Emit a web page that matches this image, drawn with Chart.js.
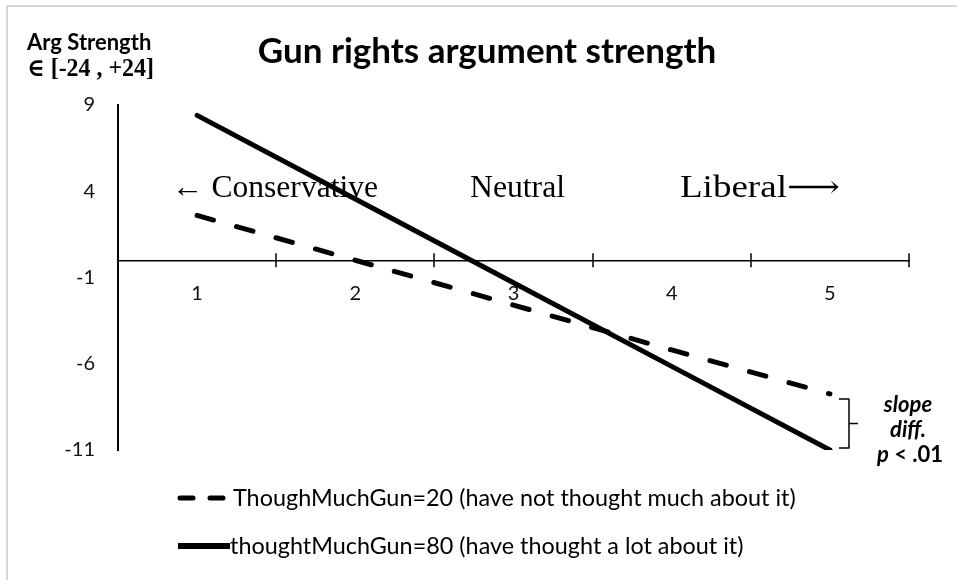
<!DOCTYPE html>
<html>
<head>
<meta charset="utf-8">
<script src="https://cdn.jsdelivr.net/npm/chart.js@4"></script>
<style>
  html, body { margin: 0; padding: 0; background: #fff; }
  #wrap { width: 957px; height: 580px; }
</style>
</head>
<body>
<div id="wrap"><canvas id="c" width="957" height="580"></canvas></div>
<script>
// ---- data ----
const categories = ['1', '2', '3', '4', '5'];
const lowThought = [2.6, 0.0, -2.6, -5.2, -7.75];     // ThoughMuchGun=20
const highThought = [8.4, 3.55, -1.3, -6.15, -11.0];  // thoughtMuchGun=80
const yMin = -11, yMax = 9, yStep = 5;

const labelLow = 'ThoughMuchGun=20 (have not thought much about it)';
const labelHigh = 'thoughtMuchGun=80 (have thought a lot about it)';
const titleText = 'Gun rights argument strength';
const yTitle1 = 'Arg Strength';
const yTitle2 = '\u2208 [-24 , +24]';
const regionLabels = ['\u2190 Conservative', 'Neutral', 'Liberal\u27F6'];
const slopeNote = ['slope', 'diff.', 'p < .01'];

const SANS = 'Lato, "Open Sans", sans-serif';
const SERIF = '"Liberation Serif", "DejaVu Serif", serif';

function txt(ctx, s, x, y, font, align, maxW) {
  ctx.save();
  ctx.font = font;
  ctx.fillStyle = '#000';
  ctx.textAlign = align || 'left';
  ctx.textBaseline = 'alphabetic';
  if (maxW) ctx.fillText(s, x, y, maxW); else ctx.fillText(s, x, y);
  ctx.restore();
}
// draw text stretched/compressed horizontally to an exact width
function txtFit(ctx, s, x, y, font, width) {
  ctx.save();
  ctx.font = font;
  ctx.fillStyle = '#000';
  ctx.textAlign = 'left';
  ctx.textBaseline = 'alphabetic';
  const w = ctx.measureText(s).width;
  ctx.translate(x, y);
  ctx.scale(width / w, 1);
  ctx.fillText(s, 0, 0);
  ctx.restore();
}

const decor = {
  id: 'decor',
  beforeDraw(chart) {
    const ctx = chart.ctx;
    ctx.save();
    ctx.strokeStyle = '#d9d9d9';
    ctx.lineWidth = 2;
    ctx.beginPath();
    ctx.moveTo(7, 580); ctx.lineTo(7, 6); ctx.lineTo(957, 6);
    ctx.stroke();
    ctx.restore();
  },
  beforeDatasetsDraw(chart) {
    const ctx = chart.ctx;
    // region labels
    txtFit(ctx, regionLabels[0], 172, 197, '31px ' + SERIF, 206);
    txtFit(ctx, regionLabels[1], 470, 197, '31px ' + SERIF, 95);
    txtFit(ctx, regionLabels[2], 680, 197, '31px ' + SERIF, 160);
    // x tick marks crossing the axis
    const xs = chart.scales.x, ys = chart.scales.y;
    const y0 = ys.getPixelForValue(0);
    ctx.save();
    ctx.strokeStyle = '#000';
    ctx.lineWidth = 1.5;
    ctx.beginPath();
    for (let i = 0; i <= categories.length; i++) {
      const x = Math.round(xs.getPixelForValue(i - 0.5));
      ctx.moveTo(x, y0 - 7); ctx.lineTo(x, y0 + 7);
    }
    ctx.stroke();
    ctx.restore();
  },
  afterDraw(chart) {
    const ctx = chart.ctx;
    // title
    txt(ctx, titleText, 487, 63, 'bold 35px ' + SANS, 'center');
    // y-axis title
    txt(ctx, yTitle1, 27, 50, 'bold 22px ' + SANS, 'left');
    txt(ctx, yTitle2, 27, 76, 'bold 25px ' + SERIF, 'left', 127);
    // bracket
    ctx.save();
    ctx.strokeStyle = '#000';
    ctx.lineWidth = 1.5;
    ctx.lineJoin = 'round';
    ctx.beginPath();
    ctx.moveTo(839, 399); ctx.lineTo(849, 399); ctx.lineTo(849, 448); ctx.lineTo(839, 448);
    ctx.moveTo(849, 423.5); ctx.lineTo(858, 423.5);
    ctx.stroke();
    ctx.restore();
    txt(ctx, slopeNote[0], 908, 412, 'italic bold 22px ' + SANS, 'center');
    txt(ctx, slopeNote[1], 908, 437, 'italic bold 22px ' + SANS, 'center');
    // "p < .01" with italic p
    ctx.save();
    ctx.font = 'italic bold 22px ' + SANS;
    const wp = ctx.measureText('p').width;
    ctx.font = 'bold 22px ' + SANS;
    const wr = ctx.measureText(' < .01').width;
    const startX = 910 - (wp + wr) / 2;
    ctx.restore();
    txt(ctx, 'p', startX, 462, 'italic bold 22px ' + SANS, 'left');
    txt(ctx, ' < .01', startX + wp, 462, 'bold 22px ' + SANS, 'left');
    // legend
    const ds = chart.data.datasets;
    const rows = [498, 546];
    ds.forEach((d, i) => {
      const y = rows[i];
      const dashed = d.borderDash && d.borderDash.length;
      ctx.save();
      ctx.strokeStyle = d.borderColor;
      ctx.lineWidth = d.borderWidth;
      ctx.lineCap = 'round';
      ctx.setLineDash(dashed ? [13, 17] : []);
      ctx.beginPath();
      if (dashed) { ctx.moveTo(180, y); ctx.lineTo(224, y); }
      else { ctx.lineCap = 'butt'; ctx.lineWidth = d.borderWidth + 1; ctx.moveTo(178, y); ctx.lineTo(230, y); }
      ctx.stroke();
      ctx.restore();
      txt(ctx, d.label, dashed ? 233 : 230, y + 8, '23.4px ' + SANS, 'left');
    });
  }
};

new Chart(document.getElementById('c'), {
  type: 'line',
  data: {
    labels: categories,
    datasets: [
      { label: labelLow, data: lowThought, borderColor: '#000', borderWidth: 5,
        borderDash: [17, 24], borderCapStyle: 'round', pointRadius: 0, tension: 0, fill: false },
      { label: labelHigh, data: highThought, borderColor: '#000', borderWidth: 5,
        borderCapStyle: 'round', pointRadius: 0, tension: 0, fill: false }
    ]
  },
  options: {
    responsive: false,
    animation: false,
    events: [],
    layout: { padding: { top: 105, right: 48, bottom: 130, left: 0 } },
    plugins: { legend: { display: false }, title: { display: false }, tooltip: { enabled: false } },
    scales: {
      x: {
        type: 'category',
        offset: true,
        position: { y: 0 },
        grid: { display: false, drawTicks: false },
        border: { display: true, color: '#000', width: 1.5 },
        ticks: { color: '#111', font: { family: SANS, size: 20 }, padding: 21, maxRotation: 0 }
      },
      y: {
        min: yMin, max: yMax,
        grid: { display: false, drawTicks: false },
        border: { display: true, color: '#000', width: 2 },
        ticks: { stepSize: yStep, color: '#111', font: { family: SANS, size: 20 }, padding: 23 },
        afterFit(scale) { scale.width = 118; }
      }
    }
  },
  plugins: [decor]
});
</script>
</body>
</html>
